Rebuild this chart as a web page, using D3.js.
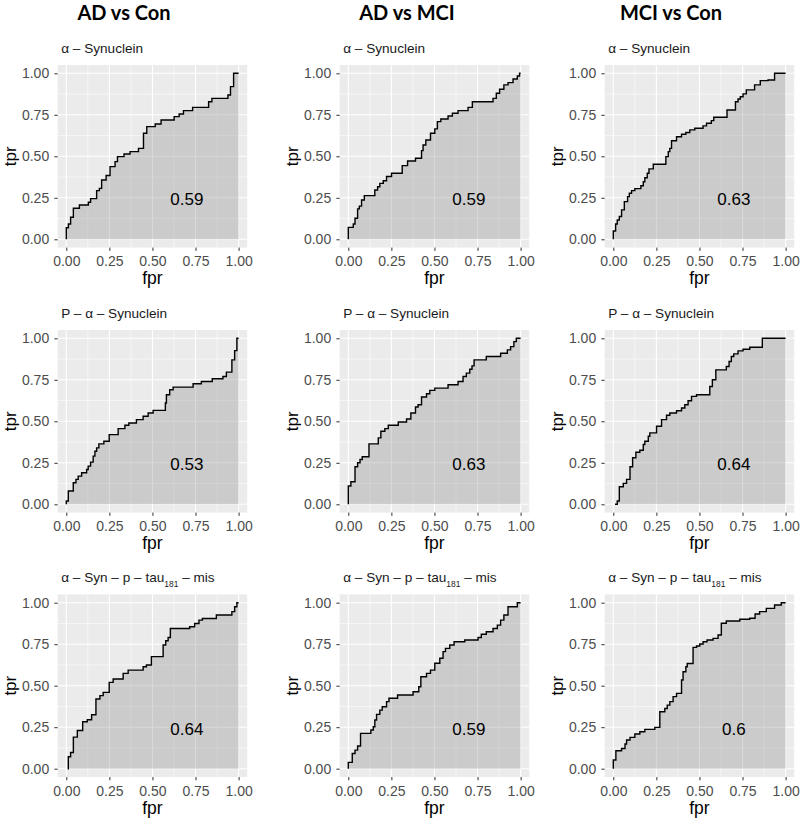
<!DOCTYPE html>
<html>
<head>
<meta charset="utf-8">
<script src="https://cdn.jsdelivr.net/npm/d3@7"></script>
<style>
  html, body { margin: 0; padding: 0; background: #ffffff; }
  svg { display: block; }
</style>
</head>
<body>
<svg id="chart" width="800" height="821"></svg>
<script>
// ---------------- DATA ----------------
const columnTitles = ["AD vs Con", "AD vs MCI", "MCI vs Con"];
const rowMarkers = ["α-Synuclein", "P-α-Synuclein", "α-Syn-p-tau181-mis"];
const aucLabels = [
  ["0.59", "0.59", "0.63"],
  ["0.53", "0.63", "0.64"],
  ["0.64", "0.59", "0.6"]
];
const tickValues = [0, 0.25, 0.5, 0.75, 1];
const tickLabels = ["0.00", "0.25", "0.50", "0.75", "1.00"];
const minorValues = [0.125, 0.375, 0.625, 0.875];
const xTitle = "fpr";
const yTitle = "tpr";

// ROC points [fpr, tpr]
const rocAdConSyn = [[0,0],[0,0.07],[0.012,0.092],[0.025,0.133],[0.041,0.187],[0.076,0.207],[0.128,0.223],[0.141,0.245],[0.176,0.293],[0.192,0.307],[0.205,0.357],[0.231,0.384],[0.254,0.438],[0.283,0.468],[0.297,0.498],[0.335,0.514],[0.370,0.528],[0.419,0.548],[0.448,0.639],[0.467,0.679],[0.516,0.695],[0.550,0.719],[0.626,0.739],[0.655,0.755],[0.680,0.775],[0.733,0.795],[0.826,0.829],[0.845,0.849],[0.938,0.869],[0.953,0.92],[0.971,1],[1,1]];
const rocAdMciSyn = [[0,0],[0,0.072],[0.029,0.092],[0.039,0.127],[0.054,0.183],[0.064,0.2],[0.077,0.237],[0.093,0.263],[0.154,0.297],[0.170,0.317],[0.183,0.337],[0.203,0.353],[0.222,0.378],[0.251,0.398],[0.313,0.444],[0.344,0.472],[0.390,0.488],[0.425,0.534],[0.434,0.568],[0.450,0.598],[0.477,0.639],[0.502,0.665],[0.517,0.709],[0.537,0.725],[0.579,0.743],[0.604,0.759],[0.637,0.775],[0.695,0.795],[0.720,0.829],[0.840,0.849],[0.859,0.88],[0.878,0.904],[0.903,0.93],[0.927,0.944],[0.956,0.966],[0.981,0.984],[0.994,1],[1,1]];
const rocMciConSyn = [[0,0],[0,0.05],[0.0135,0.092],[0.023,0.116],[0.035,0.137],[0.048,0.177],[0.064,0.227],[0.083,0.257],[0.093,0.277],[0.106,0.293],[0.125,0.305],[0.160,0.323],[0.174,0.347],[0.183,0.371],[0.197,0.398],[0.207,0.424],[0.232,0.452],[0.305,0.498],[0.319,0.528],[0.328,0.548],[0.338,0.594],[0.367,0.618],[0.396,0.633],[0.421,0.643],[0.444,0.659],[0.473,0.669],[0.521,0.683],[0.541,0.699],[0.569,0.715],[0.583,0.735],[0.660,0.779],[0.709,0.829],[0.724,0.845],[0.737,0.859],[0.753,0.876],[0.772,0.9],[0.820,0.93],[0.853,0.956],[0.898,0.96],[0.936,1],[1,1]];
const rocAdConPSyn = [[0,0],[0,0.02],[0.0116,0.08],[0.0405,0.13],[0.056,0.15],[0.069,0.17],[0.089,0.19],[0.118,0.21],[0.127,0.23],[0.141,0.254],[0.156,0.29],[0.166,0.32],[0.176,0.34],[0.189,0.364],[0.218,0.38],[0.249,0.42],[0.301,0.456],[0.340,0.476],[0.363,0.49],[0.407,0.51],[0.446,0.53],[0.475,0.55],[0.504,0.566],[0.575,0.61],[0.581,0.66],[0.600,0.69],[0.620,0.706],[0.736,0.726],[0.784,0.74],[0.847,0.756],[0.909,0.77],[0.929,0.796],[0.961,0.87],[0.977,0.926],[0.990,1],[1,1]];
const rocAdMciPSyn = [[0,0],[0,0.11],[0.015,0.136],[0.039,0.226],[0.054,0.25],[0.068,0.27],[0.081,0.286],[0.120,0.364],[0.174,0.40],[0.189,0.44],[0.212,0.456],[0.232,0.476],[0.290,0.496],[0.338,0.514],[0.363,0.55],[0.390,0.586],[0.405,0.60],[0.425,0.646],[0.454,0.666],[0.473,0.686],[0.502,0.70],[0.579,0.72],[0.637,0.74],[0.666,0.77],[0.685,0.79],[0.705,0.814],[0.718,0.834],[0.730,0.87],[0.801,0.89],[0.884,0.91],[0.923,0.93],[0.942,0.95],[0.961,0.98],[0.975,1],[1,1]];
const rocMciConPSyn = [[0.01,0],[0.023,0.02],[0.035,0.106],[0.058,0.126],[0.077,0.15],[0.097,0.226],[0.112,0.28],[0.131,0.314],[0.154,0.326],[0.174,0.36],[0.183,0.38],[0.203,0.41],[0.212,0.43],[0.251,0.47],[0.280,0.51],[0.309,0.536],[0.328,0.55],[0.367,0.564],[0.396,0.58],[0.415,0.60],[0.434,0.624],[0.454,0.65],[0.483,0.66],[0.560,0.71],[0.575,0.75],[0.595,0.81],[0.656,0.83],[0.672,0.86],[0.685,0.89],[0.699,0.906],[0.724,0.924],[0.753,0.934],[0.792,0.946],[0.865,1],[1,1]];
const rocAdConTau = [[0.008,0],[0.0116,0.072],[0.025,0.098],[0.041,0.19],[0.064,0.23],[0.095,0.283],[0.122,0.295],[0.147,0.325],[0.172,0.42],[0.195,0.44],[0.214,0.46],[0.249,0.52],[0.272,0.54],[0.330,0.574],[0.359,0.594],[0.446,0.614],[0.465,0.625],[0.494,0.675],[0.562,0.745],[0.577,0.771],[0.591,0.79],[0.604,0.845],[0.716,0.855],[0.745,0.875],[0.770,0.895],[0.790,0.905],[0.871,0.926],[0.961,0.946],[0.977,0.976],[0.990,1],[1,1]];
const rocAdMciTau = [[0,0],[0,0.038],[0.023,0.092],[0.039,0.112],[0.054,0.137],[0.071,0.213],[0.131,0.233],[0.145,0.253],[0.154,0.293],[0.164,0.327],[0.183,0.353],[0.197,0.373],[0.222,0.404],[0.236,0.424],[0.286,0.444],[0.376,0.464],[0.409,0.494],[0.421,0.554],[0.454,0.574],[0.477,0.594],[0.502,0.635],[0.531,0.665],[0.550,0.705],[0.564,0.725],[0.589,0.745],[0.614,0.765],[0.676,0.775],[0.753,0.79],[0.772,0.81],[0.801,0.825],[0.840,0.845],[0.865,0.865],[0.884,0.895],[0.903,0.926],[0.927,0.976],[0.981,1],[1,1]];
const rocMciConTau = [[0,0],[0,0.052],[0.015,0.108],[0.048,0.122],[0.068,0.149],[0.077,0.173],[0.097,0.189],[0.125,0.209],[0.154,0.223],[0.183,0.237],[0.241,0.249],[0.270,0.343],[0.299,0.363],[0.313,0.383],[0.328,0.404],[0.347,0.434],[0.367,0.454],[0.396,0.534],[0.405,0.584],[0.421,0.614],[0.429,0.634],[0.463,0.731],[0.483,0.739],[0.502,0.751],[0.521,0.765],[0.544,0.775],[0.579,0.785],[0.608,0.805],[0.627,0.876],[0.656,0.89],[0.734,0.90],[0.792,0.906],[0.823,0.932],[0.849,0.946],[0.888,0.966],[0.936,0.986],[0.975,1],[1,1]];

const rocGrid = [
  [rocAdConSyn, rocAdMciSyn, rocMciConSyn],
  [rocAdConPSyn, rocAdMciPSyn, rocMciConPSyn],
  [rocAdConTau, rocAdMciTau, rocMciConTau]
];

// ---------------- LAYOUT ----------------
const colX0 = [66.3, 348.3, 613.3];   // pixel of fpr = 0
const rowY1 = [73.3, 338.3, 602.7];   // pixel of tpr = 1
const plotW = 172.3, plotH = 166;
const titleX = [124, 407, 671];
const fontMain = "'Liberation Sans', Arial, Helvetica, sans-serif";
const subSize = 13.6;

const svg = d3.select("#chart");

svg.selectAll("text.coltitle").data(columnTitles).join("text")
  .attr("class", "coltitle")
  .attr("x", (d, i) => titleX[i]).attr("y", 20)
  .attr("text-anchor", "middle")
  .style("font-family", "Lato, 'Open Sans', sans-serif")
  .style("font-weight", 700).style("font-size", "20px").style("fill", "#000")
  .text(d => d);

function subtitle(g, label) {
  const t = g.append("text").style("font-family", fontMain)
    .style("font-size", subSize + "px").style("fill", "#1a1a1a");
  const parts = label.split("-");
  parts.forEach((p, k) => {
    if (k > 0) t.append("tspan").style("font-size", subSize + "px").text(" \u2013 ");
    const m = p.match(/^(tau)(\d+)$/);
    if (m) {
      t.append("tspan").style("font-size", subSize + "px").text(m[1]);
      t.append("tspan").attr("baseline-shift", "sub")
        .style("font-size", (subSize * 0.62) + "px").text(m[2]);
    } else {
      t.append("tspan").style("font-size", subSize + "px").text(p);
    }
  });
  return t;
}

for (let r = 0; r < 3; r++) {
  for (let c = 0; c < 3; c++) {
    const x0 = colX0[c], y1 = rowY1[r];
    const x = d3.scaleLinear().domain([0, 1]).range([x0, x0 + plotW]);
    const y = d3.scaleLinear().domain([0, 1]).range([y1 + plotH, y1]);
    const left = x(-0.05), right = x(1.05), top = y(1.05), bottom = y(-0.05);
    const g = svg.append("g");

    g.append("rect").attr("x", left).attr("y", top)
      .attr("width", right - left).attr("height", bottom - top).attr("fill", "#EBEBEB");

    // minor grid
    g.selectAll("line.mx").data(minorValues).join("line")
      .attr("x1", d => x(d)).attr("x2", d => x(d)).attr("y1", top).attr("y2", bottom)
      .attr("stroke", "#fff").attr("stroke-width", 0.55);
    g.selectAll("line.my").data(minorValues).join("line")
      .attr("y1", d => y(d)).attr("y2", d => y(d)).attr("x1", left).attr("x2", right)
      .attr("stroke", "#fff").attr("stroke-width", 0.55);
    // major grid
    g.selectAll("line.gx").data(tickValues).join("line")
      .attr("x1", d => x(d)).attr("x2", d => x(d)).attr("y1", top).attr("y2", bottom)
      .attr("stroke", "#fff").attr("stroke-width", 1.1);
    g.selectAll("line.gy").data(tickValues).join("line")
      .attr("y1", d => y(d)).attr("y2", d => y(d)).attr("x1", left).attr("x2", right)
      .attr("stroke", "#fff").attr("stroke-width", 1.1);

    const pts = rocGrid[r][c];
    const area = d3.area().curve(d3.curveStepAfter)
      .x(d => x(d[0])).y0(y(0)).y1(d => y(d[1]));
    const line = d3.line().curve(d3.curveStepAfter)
      .x(d => x(d[0])).y(d => y(d[1]));
    g.append("path").datum(pts).attr("d", area)
      .attr("fill", "#808080").attr("fill-opacity", 0.3);
    g.append("path").datum(pts).attr("d", line)
      .attr("fill", "none").attr("stroke", "#000").attr("stroke-width", 1.4);

    // axes
    const xAxis = d3.axisBottom(x).tickValues(tickValues)
      .tickFormat((d, i) => tickLabels[i]).tickSize(3.3).tickPadding(5.6);
    const yAxis = d3.axisLeft(y).tickValues(tickValues)
      .tickFormat((d, i) => tickLabels[i]).tickSize(3.3).tickPadding(5.2);
    const gx = g.append("g").attr("transform", `translate(0,${bottom})`).call(xAxis);
    const gy = g.append("g").attr("transform", `translate(${left},0)`).call(yAxis);
    [gx, gy].forEach(ax => {
      ax.select(".domain").remove();
      ax.selectAll(".tick line").attr("stroke", "#333").attr("stroke-width", 1);
      ax.selectAll(".tick text").style("font-family", fontMain)
        .style("font-size", "14px").attr("fill", "#4D4D4D");
    });

    // axis titles
    g.append("text").attr("x", (left + right) / 2).attr("y", bottom + 36.5)
      .attr("text-anchor", "middle").style("font-family", fontMain)
      .style("font-size", "17.5px").attr("fill", "#000").text(xTitle);
    g.append("text")
      .attr("transform", `translate(${left - 42},${(top + bottom) / 2}) rotate(-90)`)
      .attr("text-anchor", "middle").style("font-family", fontMain)
      .style("font-size", "17px").attr("fill", "#000").text(yTitle);

    // subtitle
    subtitle(g, rowMarkers[r]).attr("x", left + 3.5).attr("y", top - 12.3);

    // AUC
    g.append("text").attr("x", x(0.7)).attr("y", y(0.25) + 7.5)
      .attr("text-anchor", "middle").style("font-family", fontMain)
      .style("font-size", "17px").attr("fill", "#000").text(aucLabels[r][c]);
  }
}
</script>
</body>
</html>
